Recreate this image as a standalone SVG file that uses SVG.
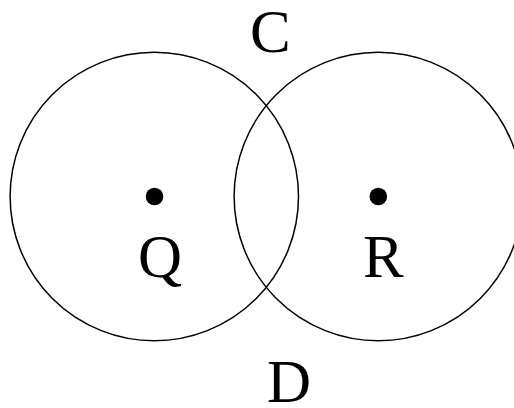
<svg xmlns="http://www.w3.org/2000/svg" width="514" height="408" viewBox="0 0 514 408">
<style>
.circ{fill:none;stroke:#000;stroke-width:1.5}
.dot{fill:#000}
.lbl{font-family:"Liberation Serif","Times New Roman",serif;font-size:61px;fill:#000}
</style>
<rect width="514" height="408" fill="#fff"/>
<g id="circle-Q">
<circle class="circ" cx="154.3" cy="196.5" r="144.2"/>
</g>
<g id="circle-R">
<circle class="circ" cx="378.3" cy="196.5" r="144.2"/>
</g>
<g id="node-Q">
<circle class="dot" cx="154.5" cy="196.5" r="8.8"/>
<text class="lbl" x="138" y="276.5">Q</text>
</g>
<g id="node-R">
<circle class="dot" cx="378.3" cy="196.5" r="8.8"/>
<text class="lbl" x="363" y="276.5">R</text>
</g>
<g id="node-C">
<text class="lbl" x="250" y="52">C</text>
</g>
<g id="node-D">
<text class="lbl" x="267" y="402">D</text>
</g>
<g id="connectors"></g>
</svg>
